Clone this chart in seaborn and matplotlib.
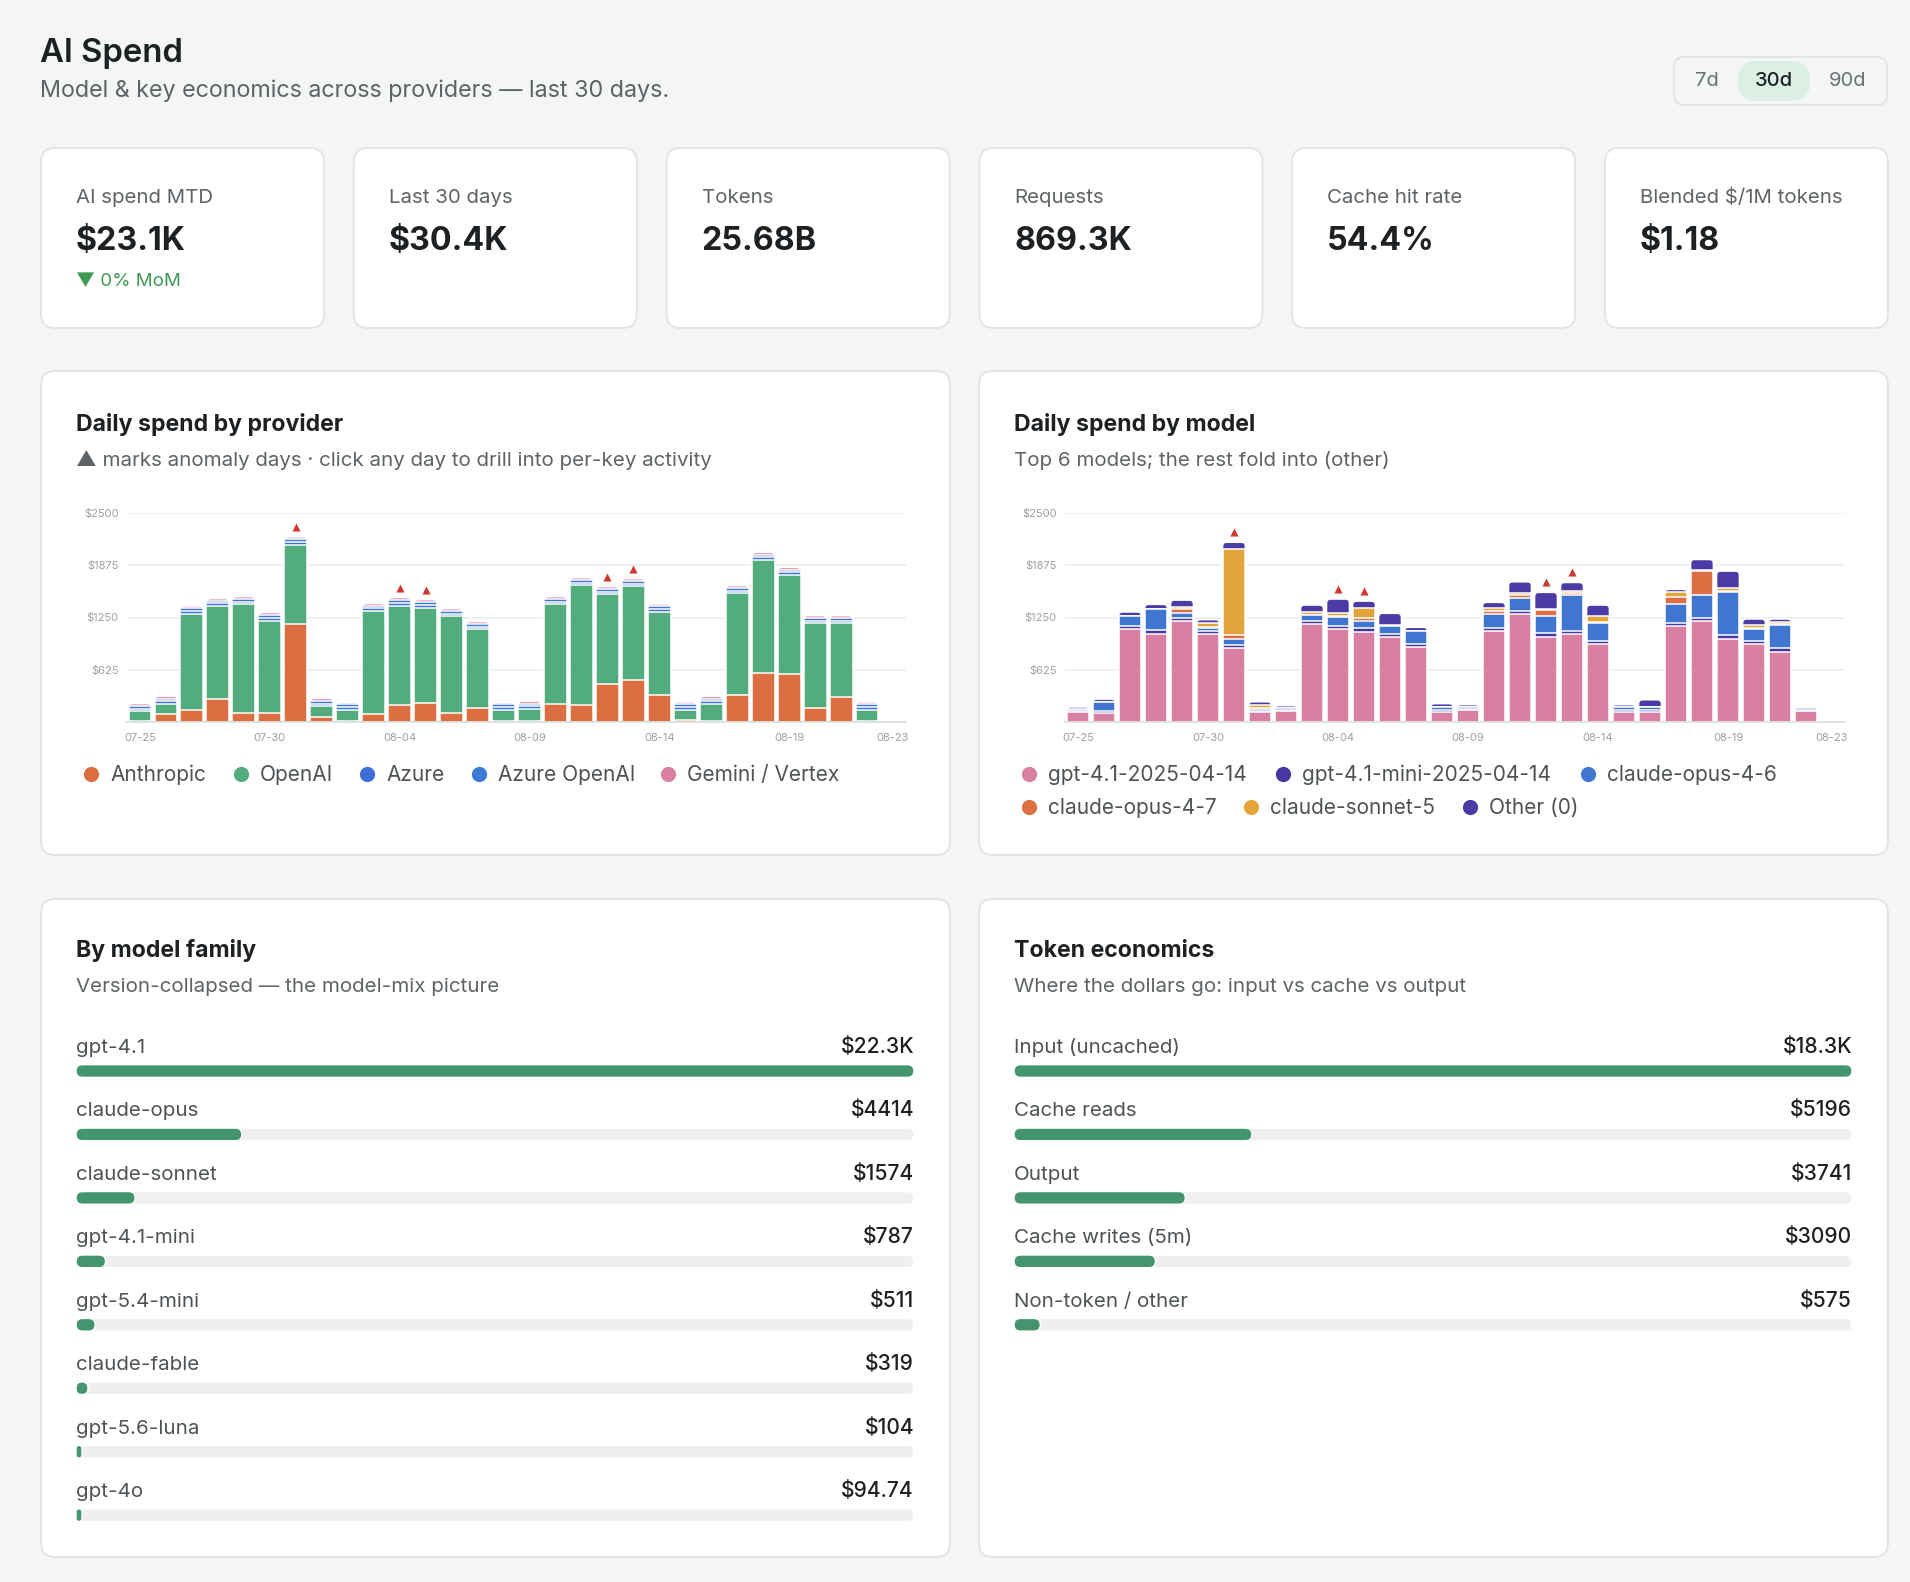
import numpy as np
import matplotlib
matplotlib.use("Agg")
import matplotlib.pyplot as plt
from matplotlib.patches import FancyBboxPatch, Rectangle
import seaborn as sns

# ---------------- data ----------------
days = ["07-25", "07-26", "07-27", "07-28", "07-29", "07-30", "07-31",
        "08-01", "08-02", "08-03", "08-04", "08-05", "08-06", "08-07", "08-08",
        "08-09", "08-10", "08-11", "08-12", "08-13", "08-14", "08-15", "08-16",
        "08-17", "08-18", "08-19", "08-20", "08-21", "08-22", "08-23"]
tick_days = ["07-25", "07-30", "08-04", "08-09", "08-14", "08-19", "08-23"]
anomaly_days = ["07-31", "08-04", "08-05", "08-12", "08-13"]

providers = ["Anthropic", "OpenAI", "Azure", "Azure OpenAI", "Gemini / Vertex"]
anthropic = [16, 95, 139, 274, 103, 107, 1177, 60, 16, 95, 207, 227, 107, 163, 16,
             16, 219, 207, 453, 501, 326, 28, 16, 326, 584, 580, 167, 294, 16, 1]
openai = [111, 124, 1157, 1113, 1304, 1105, 942, 127, 127, 1233, 1184, 1140, 1157, 946, 127,
          143, 1188, 1427, 1073, 1121, 994, 115, 199, 1212, 1352, 1177, 1014, 887, 131, 0]
azure = [33, 30, 33, 31, 33, 35, 34, 34, 33, 30, 35, 35, 33, 33, 33,
         30, 33, 33, 33, 33, 33, 35, 33, 33, 33, 33, 33, 33, 33, 0]
azure_openai = [34, 32, 33, 32, 34, 35, 35, 35, 34, 32, 35, 35, 33, 33, 34,
                32, 34, 33, 34, 33, 33, 35, 33, 34, 33, 33, 33, 33, 34, 0]
gemini = [25, 25, 25, 25, 25, 26, 26, 26, 25, 25, 26, 26, 25, 25, 25,
          25, 25, 25, 25, 25, 25, 26, 25, 25, 25, 25, 25, 25, 25, 4]

models = ["gpt-4.1-2025-04-14", "gpt-4.1-mini-2025-04-14", "claude-opus-4-6",
          "claude-opus-4-7", "claude-sonnet-5", "Other (0)"]
m_gpt41 = [115, 107, 1109, 1053, 1208, 1049, 890, 119, 127, 1169, 1113, 1081, 1022, 894, 123,
           139, 1089, 1288, 1022, 1049, 930, 119, 119, 1149, 1208, 990, 930, 843, 127, 0]
m_gpt41_mini = [10, 30, 45, 48, 40, 35, 30, 15, 20, 35, 40, 40, 35, 40, 20,
                20, 40, 40, 45, 45, 40, 25, 25, 40, 40, 45, 40, 45, 20, 0]
m_opus46 = [20, 100, 115, 254, 60, 40, 75, 25, 20, 80, 100, 90, 90, 160, 40,
            20, 160, 160, 200, 430, 210, 30, 40, 220, 270, 520, 140, 270, 20, 0]
m_opus47 = [0, 0, 0, 0, 40, 15, 45, 10, 0, 0, 20, 35, 0, 0, 0,
            0, 40, 30, 70, 20, 15, 0, 0, 90, 290, 10, 10, 20, 0, 0]
m_sonnet5 = [5, 0, 0, 0, 30, 45, 1030, 40, 0, 35, 35, 115, 10, 0, 0,
             0, 30, 20, 15, 26, 73, 0, 0, 59, 8, 33, 40, 23, 0, 0]
m_other = [29, 37, 47, 52, 80, 40, 80, 33, 28, 80, 163, 85, 143, 39, 36,
           28, 72, 139, 199, 99, 131, 33, 82, 28, 128, 207, 72, 31, 20, 4]

kpi_labels = ["AI spend MTD", "Last 30 days", "Tokens", "Requests",
              "Cache hit rate", "Blended $/1M tokens"]
kpi_values = ["$23.1K", "$30.4K", "25.68B", "869.3K", "54.4%", "$1.18"]
kpi_delta = "▼ 0% MoM"

family_labels = ["gpt-4.1", "claude-opus", "claude-sonnet", "gpt-4.1-mini",
                 "gpt-5.4-mini", "claude-fable", "gpt-5.6-luna", "gpt-4o"]
family_values = [22300, 4414, 1574, 787, 511, 319, 104, 94.74]
family_text = ["$22.3K", "$4414", "$1574", "$787", "$511", "$319", "$104", "$94.74"]

token_labels = ["Input (uncached)", "Cache reads", "Output", "Cache writes (5m)",
                "Non-token / other"]
token_values = [18300, 5196, 3741, 3090, 575]
token_text = ["$18.3K", "$5196", "$3741", "$3090", "$575"]

periods = ["7d", "30d", "90d"]

# ---------------- style ----------------
BG = "#f4f6f5"
CARD_EDGE = "#e1e5e3"
DARK = "#1d2124"
MUTED = "#5d6366"
AXIS_TXT = "#9aa0a3"
TRACK = "#edf0ee"
FILL = "#44956d"
ANOM = "#d1362f"
prov_colors = ["#dc6f42", "#52ac7d", "#3d6fd6", "#3b7bd6", "#d980a4"]
model_colors = ["#d97fa2", "#4637a2", "#3f77d0", "#dd6f42", "#e3a43a", "#4a3ba6"]

sns.set_theme(style="white")
plt.rcParams["font.family"] = ["Inter", "DejaVu Sans"]

W, H = 1910, 1582
fig = plt.figure(figsize=(W / 100, H / 100), dpi=100, facecolor=BG)


def px_axes(x0, y0, x1, y1):
    return fig.add_axes([x0 / W, 1 - y1 / H, (x1 - x0) / W, (y1 - y0) / H])


bg = fig.add_axes([0, 0, 1, 1])
bg.set_xlim(0, W)
bg.set_ylim(H, 0)
bg.axis("off")
bg.set_zorder(-1)


def card(x, y, w, h, r=14, fc="white", ec=CARD_EDGE, lw=1.4):
    bg.add_patch(FancyBboxPatch((x, y), w, h, boxstyle=f"round,pad=0,rounding_size={r}",
                                fc=fc, ec=ec, lw=lw))


def round_patches(ax, patches, pxx, pxy, r_max, min_w_px=0):
    """Replace seaborn's rectangles by rounded ones (corner radius in pixels)."""
    for p in patches:
        x, y, w, h = p.get_x(), p.get_y(), p.get_width(), p.get_height()
        if h < 0:
            y, h = y + h, -h
        p.remove()
        if w <= 0 or h <= 0:
            continue
        w = max(w, min_w_px / pxx)
        r_px = min(r_max, w * pxx / 2, h * pxy / 2)
        fb = FancyBboxPatch((x, y), w, h,
                            boxstyle=f"round,pad=0,rounding_size={r_px / pxx}",
                            mutation_aspect=pxx / pxy, fc=p.get_facecolor(),
                            ec=p.get_edgecolor(), lw=p.get_linewidth(),
                            zorder=p.get_zorder())
        ax.add_patch(fb)


# header
bg.text(40, 62, "AI Spend", fontsize=23.7, fontweight="semibold", color=DARK, va="baseline")
bg.text(40, 97, "Model & key economics across providers — last 30 days.",
        fontsize=16.8, color=MUTED, va="baseline")

# period selector
card(1674, 57, 213, 48, r=10, fc=BG, ec="#dfe3e2", lw=1.2)
card(1738, 61, 72, 40, r=19, fc="#dcefe5", ec="none", lw=0)
for p, cx in zip(periods, [1707, 1774, 1847]):
    bg.text(cx, 81, p, fontsize=14.5, color=(DARK if p == "30d" else "#6b7174"),
            ha="center", va="center", fontweight=("medium" if p == "30d" else "normal"))

# KPI cards
for i, (lab, val) in enumerate(zip(kpi_labels, kpi_values)):
    cx = 41 + 312.8 * i
    card(cx, 148, 283, 180)
    bg.text(cx + 35, 203, lab, fontsize=14.7, color=MUTED, va="baseline")
    bg.text(cx + 35, 250, val, fontsize=23.2, fontweight="bold", color=DARK, va="baseline")
    if i == 0:
        bg.text(cx + 35, 286, kpi_delta, fontsize=13.5, color="#3d9a50", va="baseline")

# panel cards
card(41, 371, 909, 484)
card(979, 371, 909, 484)
card(41, 899, 909, 658)
card(979, 899, 909, 658)

TITLE_FS = 16.6
SUB_FS = 14.8
bg.text(76, 431, "Daily spend by provider", fontsize=TITLE_FS, fontweight="bold", color=DARK,
        va="baseline")
bg.text(76, 466, "▲ marks anomaly days · click any day to drill into per-key activity",
        fontsize=SUB_FS, color=MUTED, va="baseline")
bg.text(1014, 431, "Daily spend by model", fontsize=TITLE_FS, fontweight="bold", color=DARK,
        va="baseline")
bg.text(1014, 466, "Top 6 models; the rest fold into (other)", fontsize=SUB_FS, color=MUTED,
        va="baseline")
bg.text(76, 957, "By model family", fontsize=TITLE_FS, fontweight="bold", color=DARK,
        va="baseline")
bg.text(76, 992, "Version-collapsed — the model-mix picture", fontsize=SUB_FS, color=MUTED,
        va="baseline")
bg.text(1014, 957, "Token economics", fontsize=TITLE_FS, fontweight="bold", color=DARK,
        va="baseline")
bg.text(1014, 992, "Where the dollars go: input vs cache vs output", fontsize=SUB_FS,
        color=MUTED, va="baseline")


# ---------------- stacked daily charts ----------------
def stacked(rect, layers, colors):
    x0, y0, x1, y1 = rect
    ax = px_axes(x0, y0, x1, y1)
    cum = np.cumsum(np.array(layers, dtype=float), axis=0)
    pxx = (x1 - x0) / len(days)
    pxy = (y1 - y0) / 2500
    for k in range(len(layers) - 1, -1, -1):
        sns.barplot(x=days, y=cum[k], order=days, color=colors[k], saturation=1,
                    width=0.88, edgecolor="white", linewidth=1.1, errorbar=None, ax=ax)
        if k == len(layers) - 1:
            # rounded tops on the full-height bars (drawn first, overlaid by lower layers)
            round_patches(ax, [p for p in ax.patches if isinstance(p, Rectangle)],
                          pxx, pxy, 4)
    totals = cum[-1]
    idx = [days.index(d) for d in anomaly_days]
    ax.scatter(idx, totals[idx] + 120, marker="^", s=34, color=ANOM, lw=0,
               clip_on=False, zorder=6)
    ax.set_xlim(-0.5, len(days) - 0.5)
    ax.set_ylim(0, 2500)
    ticks = [625, 1250, 1875, 2500]
    ax.set_yticks(ticks)
    ax.set_yticklabels([f"${t}" for t in ticks])
    ax.set_xticks([days.index(d) for d in tick_days])
    ax.set_xticklabels(tick_days)
    ax.tick_params(axis="y", length=0, pad=6, labelsize=8, labelcolor=AXIS_TXT)
    ax.tick_params(axis="x", length=0, pad=8, labelsize=8, labelcolor=AXIS_TXT)
    ax.yaxis.grid(True, color="#eaeded", lw=1.1)
    ax.set_axisbelow(True)
    for s in ["top", "right", "left"]:
        ax.spines[s].set_visible(False)
    ax.spines["bottom"].set_color("#d6dada")
    ax.spines["bottom"].set_linewidth(1.1)
    ax.set_xlabel("")
    ax.set_ylabel("")
    ax.set_facecolor("none")
    return ax


ax1 = stacked((127, 513, 906, 722), [anthropic, openai, azure, azure_openai, gemini],
              prov_colors)
ax2 = stacked((1065, 513, 1845, 722),
              [m_gpt41, m_gpt41_mini, m_opus46, m_opus47, m_sonnet5, m_other], model_colors)

# legends
LEG_FS = 15
for name, col, mx in zip(providers, prov_colors, [91, 241, 367, 479, 668]):
    bg.scatter([mx], [774], s=120, color=col, lw=0)
    bg.text(mx + 19, 775, name, fontsize=LEG_FS, color="#4d5356", va="center")
model_leg_pos = [(1029, 774), (1283, 774), (1588, 774), (1029, 807), (1251, 807), (1470, 807)]
for name, col, (mx, my) in zip(models, model_colors, model_leg_pos):
    bg.scatter([mx], [my], s=120, color=col, lw=0)
    bg.text(mx + 19, my + 1, name, fontsize=LEG_FS, color="#4d5356", va="center")


# ---------------- progress lists ----------------
def progress(x0, x1, labels, values, texts):
    n = len(labels)
    step = 63.45
    top_row = 1071
    ylo, yhi = -0.6, n - 1 + 0.4
    y0 = top_row + ylo * step
    y1 = top_row + yhi * step
    ax = px_axes(x0, y0, x1, y1)
    vmax = max(values)
    sns.barplot(x=[vmax] * n, y=labels, order=labels, orient="h", color=TRACK,
                saturation=1, width=0.2, errorbar=None, ax=ax)
    sns.barplot(x=values, y=labels, order=labels, orient="h", color=FILL,
                saturation=1, width=0.2, errorbar=None, ax=ax)
    ax.set_xlim(0, vmax)
    ax.set_ylim(yhi, ylo)
    ax.axis("off")
    pxx = (x1 - x0) / vmax
    pxy = (y1 - y0) / (yhi - ylo)
    rects = [p for p in ax.patches if isinstance(p, Rectangle)]
    round_patches(ax, rects, pxx, pxy, 6.5, min_w_px=6)
    for i, (lab, t) in enumerate(zip(labels, texts)):
        ax.text(0, i - 18 / step, lab, fontsize=14.8, color="#4d5356", va="baseline",
                clip_on=False)
        ax.text(vmax, i - 18 / step, t, fontsize=15.2, color=DARK, va="baseline", ha="right",
                fontweight="medium", clip_on=False)


progress(76, 914, family_labels, family_values, family_text)
progress(1014, 1852, token_labels, token_values, token_text)

fig.savefig("out.png", dpi=100, facecolor=BG)
